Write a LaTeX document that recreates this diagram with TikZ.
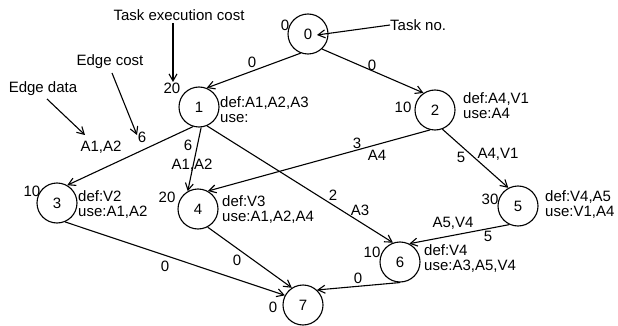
\documentclass[tikz,border=0pt]{standalone}
\usepackage{fontspec}
\setmainfont{Liberation Sans}
\usetikzlibrary{arrows.meta}
\begin{document}
\begin{tikzpicture}[x=1pt,y=-1pt,
  task/.style={circle,draw,line width=1.1pt,minimum size=40pt,inner sep=0pt,font=\fontsize{15}{15}\selectfont},
  lbl/.style={inner sep=0pt,font=\fontsize{15}{15}\selectfont},
  info/.style={inner sep=0pt,anchor=west,align=left,font=\fontsize{15}{15}\selectfont},
  conn/.style={line width=1.1pt,-{Straight Barb[length=7pt,width=8pt,line width=1.1pt]}},
]
\useasboundingbox (0,0) rectangle (618,326);
% tasks
\node[task] (n0) at (308,34) {0};
\node[task] (n1) at (199,107) {1};
\node[task] (n2) at (435,110) {2};
\node[task] (n3) at (57,203) {3};
\node[task] (n4) at (198,209) {4};
\node[task] (n5) at (518,206) {5};
\node[task] (n6) at (400,262) {6};
\node[task] (n7) at (303,305) {7};
% execution costs
\node[lbl] (c0) at (285,25) {0};
\node[lbl] (c1) at (172,88) {20};
\node[lbl] (c2) at (403,107) {10};
\node[lbl] (c3) at (32,191) {10};
\node[lbl] (c4) at (167,197) {20};
\node[lbl] (c5) at (490,199) {30};
\node[lbl] (c6) at (372,252) {10};
\node[lbl] (c7) at (273,307) {0};
% def/use
\node[info] (d1) at (220,109.5) {def:A1,A2,A3\\use:};
\node[info] (d2) at (463,105.5) {def:A4,V1\\use:A4};
\node[info] (d3) at (78,204.5) {def:V2\\use:A1,A2};
\node[info] (d4) at (222,209.5) {def:V3\\use:A1,A2,A4};
\node[info] (d5) at (545,205) {def:V4,A5\\use:V1,A4};
\node[info] (d6) at (424,259) {def:V4\\use:A3,A5,V4};
% edges
\draw[conn] (n0.249) -- (n1.68);
\draw[conn] (n0.313) -- (n2.124);
\draw[conn] (n1.253) -- (n3.60);
\draw[conn] (n1.276) -- (n4.120);
\draw[conn] (n1.293) -- (n6.110);
\draw[conn] (n2.256) -- (n4.61);
\draw[conn] (n2.291) -- (n5.118);
\draw[conn] (n3.293) -- (n7.152);
\draw[conn] (n4.298) -- (n7.123);
\draw[conn] (n5.245) -- (n6.63);
\draw[conn] (n6.270) -- (n7.47);
% edge labels
\node[lbl] (e01) at (252,62) {0};
\node[lbl] (e02) at (372,65) {0};
\node[lbl] (e13c) at (142,137) {6};
\node[lbl] (e13d) at (101,147) {A1,A2};
\node[lbl] (e14c) at (188,145) {6};
\node[lbl] (e14d) at (192,165) {A1,A2};
\node[lbl] (e16c) at (333,195) {2};
\node[lbl] (e16d) at (360,210) {A3};
\node[lbl] (e24c) at (357,143) {3};
\node[lbl] (e24d) at (377,155) {A4};
\node[lbl] (e25c) at (461,157) {5};
\node[lbl] (e25d) at (498,154) {A4,V1};
\node[lbl] (e37) at (165,266) {0};
\node[lbl] (e47) at (237,260) {0};
\node[lbl] (e56d) at (453,223) {A5,V4};
\node[lbl] (e56c) at (488,236) {5};
\node[lbl] (e67) at (358,278) {0};
% annotations
\node[lbl] (tec) at (179,15) {Task execution cost};
\coordinate (tecs) at (173,23);
\coordinate (tect) at (173,82);
\draw[conn] (tecs) -- (tect);
\node[lbl] (ec) at (110,62) {Edge cost};
\coordinate (ecs) at (112,73);
\coordinate (ect) at (137,135);
\draw[conn] (ecs) -- (ect);
\node[lbl] (ed) at (43,89) {Edge data};
\coordinate (eds) at (47,99);
\coordinate (edt) at (85,135);
\draw[conn] (eds) -- (edt);
\node[lbl,anchor=west] (tn) at (390,25) {Task no.};
\coordinate (tnt) at (317,35);
\draw[conn] (tn.west) -- (tnt);
\end{tikzpicture}
\end{document}
